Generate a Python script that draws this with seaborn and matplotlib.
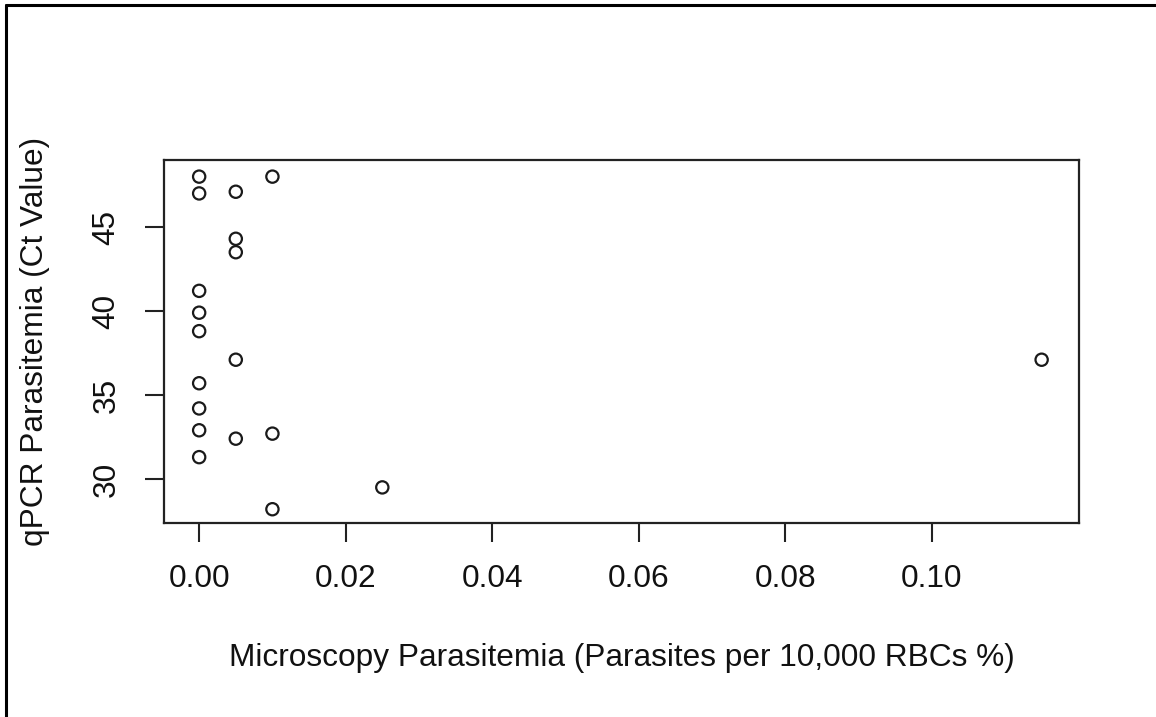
import matplotlib
matplotlib.use("Agg")
import matplotlib.pyplot as plt
from matplotlib.lines import Line2D
import seaborn as sns
import pandas as pd

# Microscopy parasitemia vs. qPCR Ct value for each sample
microscopy = [0.0, 0.0, 0.0, 0.0, 0.0, 0.0, 0.0, 0.0, 0.0,
              0.005, 0.005, 0.005, 0.005, 0.005,
              0.01, 0.01, 0.01,
              0.025, 0.115]
ct_value = [48.0, 47.0, 41.2, 39.9, 38.8, 35.7, 34.2, 32.9, 31.3,
            47.1, 44.3, 43.5, 37.1, 32.4,
            48.0, 32.7, 28.2,
            29.5, 37.1]

x_ticks = [0.00, 0.02, 0.04, 0.06, 0.08, 0.10]
x_tick_labels = ["0.00", "0.02", "0.04", "0.06", "0.08", "0.10"]
y_ticks = [30, 35, 40, 45]
y_tick_labels = ["30", "35", "40", "45"]

x_label = "Microscopy Parasitemia (Parasites per 10,000 RBCs %)"
y_label = "qPCR Parasitemia (Ct Value)"

df = pd.DataFrame({"microscopy": microscopy, "ct": ct_value})

sns.set_style("white")
plt.rcParams["font.family"] = ["Liberation Sans", "DejaVu Sans"]

W, H = 1156, 717
L, R, T, B = 164, 1079, 160, 523
fig = plt.figure(figsize=(W / 100, H / 100), dpi=100)
ax = fig.add_axes([L / W, 1 - B / H, (R - L) / W, (B - T) / H])

sns.scatterplot(data=df, x="microscopy", y="ct", ax=ax,
                s=78, facecolor="none", edgecolor="#1a1a1a", linewidth=1.6,
                legend=False)

ax.set_xlim(-0.0048, 0.1201)
ax.set_ylim(27.38, 48.99)

ax.set_xticks(x_ticks)
ax.set_xticklabels(x_tick_labels)
ax.set_yticks(y_ticks)
ax.set_yticklabels(y_tick_labels, rotation=90, va="center")

fs = 22.8
ax.tick_params(axis="both", direction="out", length=13.5, width=1.5,
               color="#222222", labelsize=fs, labelcolor="#111111",
               bottom=True, left=True)
ax.tick_params(axis="x", pad=16)
ax.tick_params(axis="y", pad=17)

for sp in ax.spines.values():
    sp.set_color("#222222")
    sp.set_linewidth(1.6)

ax.set_xlabel(x_label, fontsize=fs, color="#111111")
ax.set_ylabel(y_label, fontsize=fs, color="#111111")
ax.xaxis.set_label_coords(0.5, -(643 - B) / (B - T))
ax.yaxis.set_label_coords(-(L - 50) / (R - L), 0.5)

# outer frame lines along the top and left edges of the figure
fig.add_artist(Line2D([6 / W, 1], [1 - 5 / H, 1 - 5 / H], color="black", linewidth=2.2))
fig.add_artist(Line2D([6 / W, 6 / W], [0, 1 - 5 / H], color="black", linewidth=2.2))

fig.savefig("out.png", dpi=100, facecolor="white")
